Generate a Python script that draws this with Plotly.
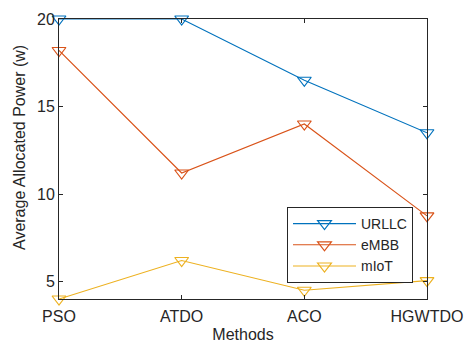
import plotly.graph_objects as go

methods = ["PSO", "ATDO", "ACO", "HGWTDO"]
urllc = [20.0, 20.0, 16.5, 13.5]
embb = [18.2, 11.2, 14.0, 8.75]
miot = [4.0, 6.2, 4.5, 5.05]
series_names = ["URLLC", "eMBB", "mIoT"]
colors = ["#0072BD", "#D95319", "#EDB120"]
yticks = [5, 10, 15, 20]

xpos = list(range(len(methods)))
fig = go.Figure()
for name, vals, c in zip(series_names, [urllc, embb, miot], colors):
    fig.add_trace(go.Scatter(
        x=xpos, y=vals, name=name, mode="lines+markers",
        line=dict(color=c, width=1.1),
        marker=dict(symbol="triangle-down-open", size=12, color=c, line=dict(width=1.2, color=c)),
        cliponaxis=False,
    ))

font = "Liberation Sans, Arial, sans-serif"
fig.update_layout(
    width=464, height=345,
    margin=dict(l=59, r=37, t=19, b=46),
    paper_bgcolor="white", plot_bgcolor="white",
    font=dict(family=font, size=16, color="#262626"),
    showlegend=True,
    legend=dict(
        x=(287 - 59) / 368, y=(299 - 207) / 280, xanchor="left", yanchor="top",
        bgcolor="white", bordercolor="#262626", borderwidth=1,
        font=dict(size=14, color="#262626"),
        tracegroupgap=0, itemwidth=63,
    ),
    xaxis=dict(
        range=[0, 3], tickvals=xpos, ticktext=methods, automargin=False,
        showgrid=False, zeroline=False, showline=True, linecolor="#262626", linewidth=1,
        mirror="ticks", ticks="inside", ticklen=4, tickcolor="#262626",
        ticklabelstandoff=3,
        title=dict(text="Methods", standoff=4, font=dict(size=16)),
        tickfont=dict(size=16),
    ),
    yaxis=dict(
        range=[4, 20], tickvals=yticks, automargin=False,
        showgrid=False, zeroline=False, showline=True, linecolor="#262626", linewidth=1,
        mirror="ticks", ticks="inside", ticklen=4, tickcolor="#262626",
        tickfont=dict(size=16),
    ),
    annotations=[dict(
        text="Average Allocated Power (w)", textangle=-90, showarrow=False,
        xref="paper", yref="paper", x=(19 - 59) / 368, y=(299 - 148) / 280,
        xanchor="center", yanchor="middle", font=dict(size=16, color="#262626"),
    )],
)
fig.write_html("out.html")
